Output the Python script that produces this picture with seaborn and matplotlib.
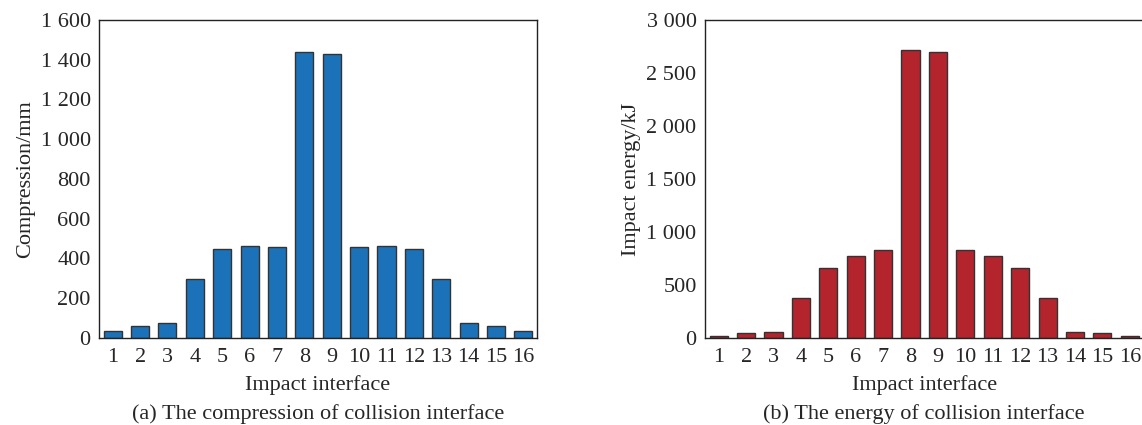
import seaborn as sns
import matplotlib.pyplot as plt
import pandas as pd
from matplotlib.ticker import FuncFormatter, MultipleLocator

interfaces = list(range(1, 17))
compression = [37, 60, 74, 295, 448, 463, 459, 1437, 1427, 459, 463, 448, 295, 74, 60, 37]
energy = [22, 47, 57, 380, 663, 774, 830, 2714, 2701, 830, 774, 663, 380, 57, 47, 22]

sns.set_style("white")
plt.rcParams['font.family'] = ['Liberation Serif', 'DejaVu Serif']
plt.rcParams['font.size'] = 16

df = pd.DataFrame({"interface": interfaces, "compression": compression, "energy": energy})


def space_thousands(v, pos):
    return f"{int(v):,}".replace(",", " ")


def draw_panel(ax, col, color, ymax, step, ylabel, caption):
    sns.barplot(data=df, x="interface", y=col, color=color, edgecolor="#333333",
                linewidth=1.0, width=0.66, saturation=1, ax=ax)
    ax.set_xlim(-0.5, 15.5)
    ax.set_ylim(0, ymax)
    ax.yaxis.set_major_locator(MultipleLocator(step))
    ax.yaxis.set_major_formatter(FuncFormatter(space_thousands))
    ax.tick_params(direction="in", length=4, width=0.8, labelsize=16, color="#222222")
    ax.tick_params(axis="x", pad=7)
    ax.tick_params(axis="y", pad=6)
    for s in ax.spines.values():
        s.set_color("#222222")
        s.set_linewidth(1.0)
    ax.set_xlabel("Impact interface", fontsize=16, labelpad=6)
    ax.set_ylabel(ylabel, fontsize=16, labelpad=4)
    # caption under each panel
    x_mid = (ax.get_position().x0 + ax.get_position().x1) / 2
    fig.text(x_mid, 0.026, caption, ha="center", va="center", fontsize=16)


fig = plt.figure(figsize=(11.42, 4.25), dpi=100)
ax1 = fig.add_axes([0.0867, 0.2047, 0.3836, 0.7483])
ax2 = fig.add_axes([0.6173, 0.2047, 0.3840, 0.7483])

draw_panel(ax1, "compression", "#1b72b9", 1600, 200, "Compression/mm",
           "(a) The compression of collision interface")
draw_panel(ax2, "energy", "#b3242d", 3000, 500, "Impact energy/kJ",
           "(b) The energy of collision interface")

fig.savefig("out.png", dpi=100)
